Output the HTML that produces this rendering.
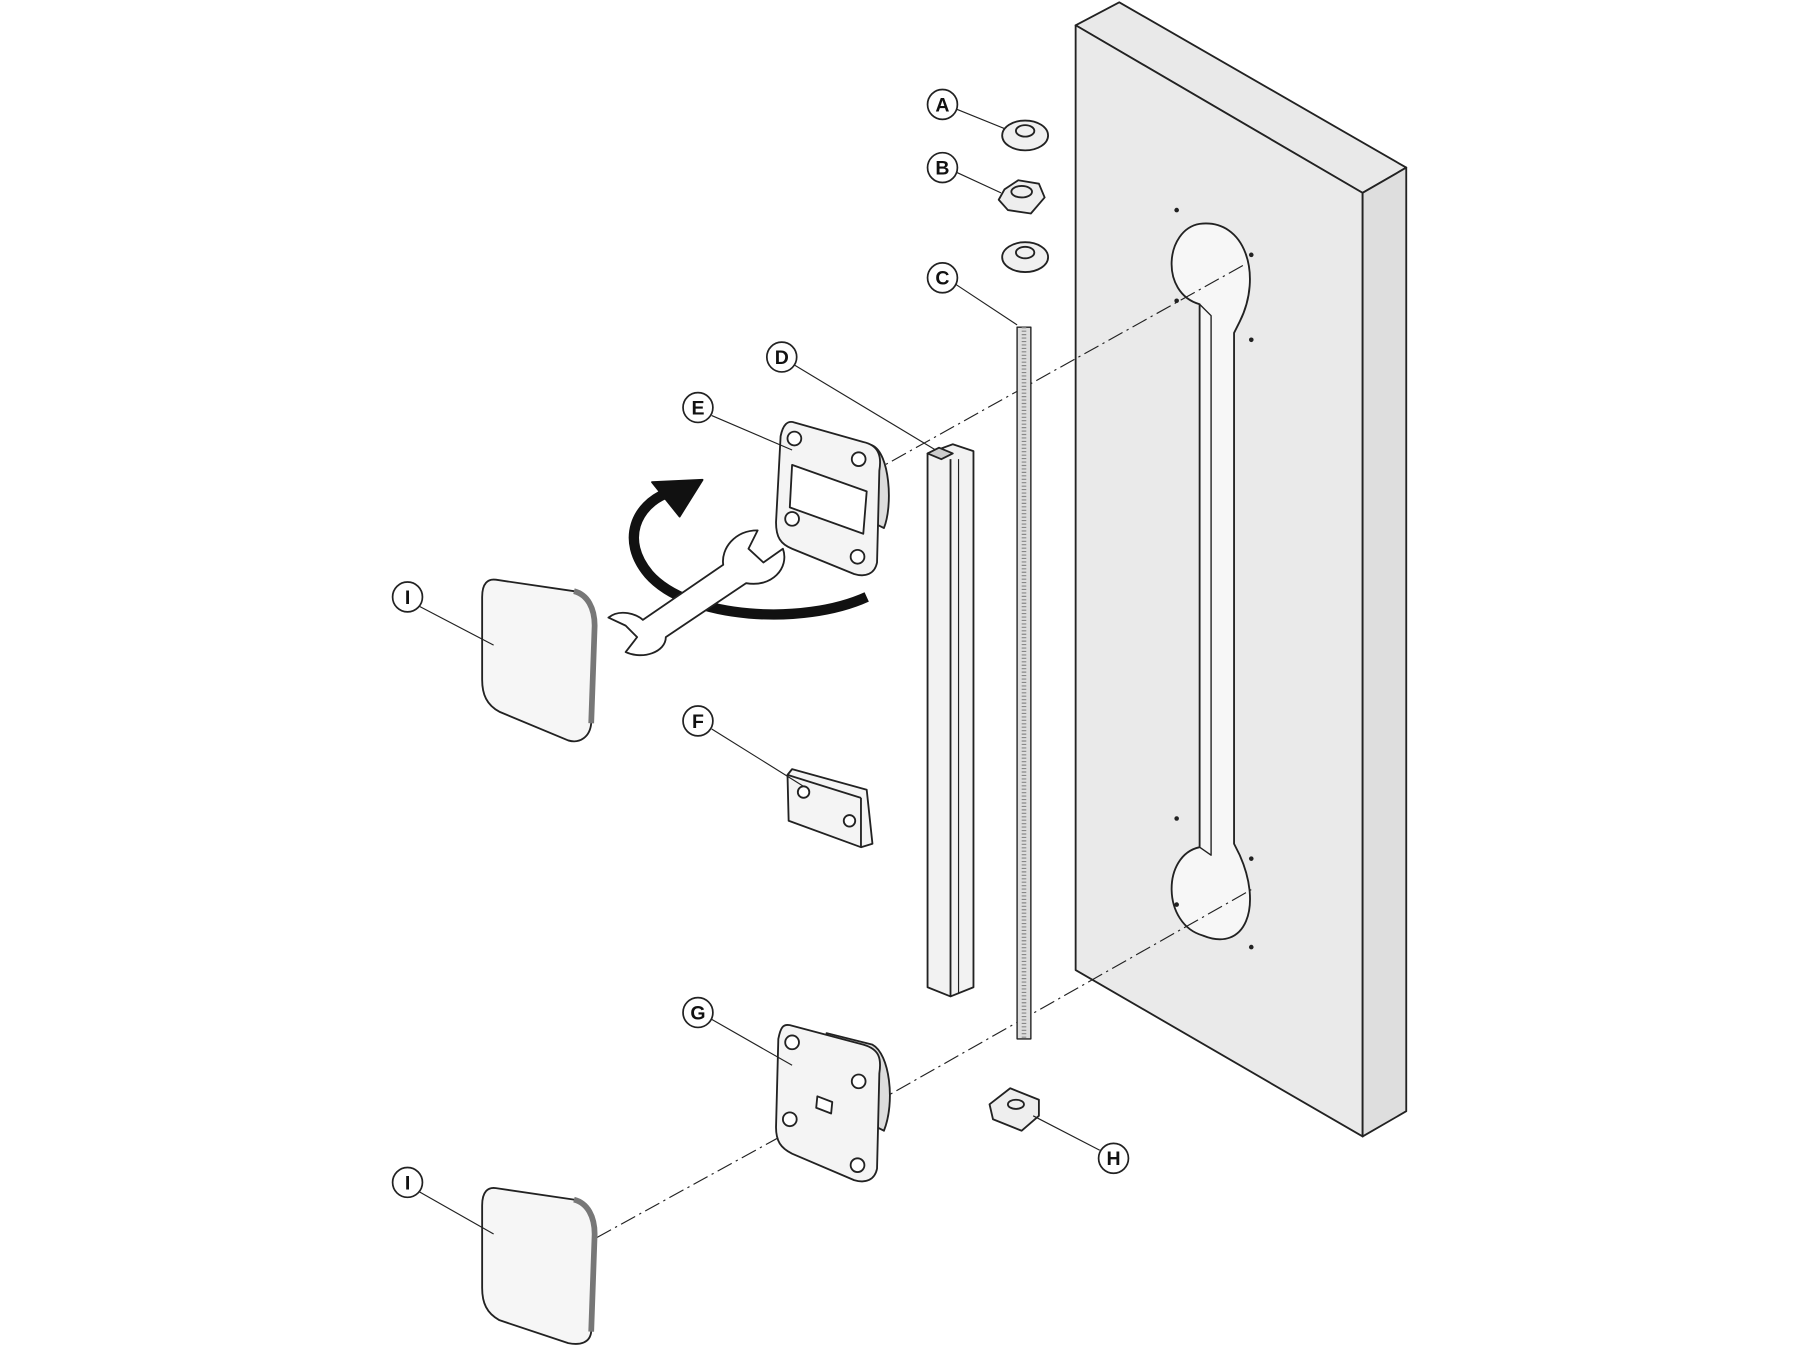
<!DOCTYPE html>
<html><head><meta charset="utf-8"><style>
html,body{margin:0;padding:0;background:#fff;}
svg{display:block;}
text{font-family:"Liberation Sans",sans-serif;font-weight:bold;font-size:17px;}
</style></head><body>
<svg width="1800" height="1350" viewBox="0 0 1568 1176" preserveAspectRatio="none" xmlns="http://www.w3.org/2000/svg">
<g stroke="#222" stroke-width="1.6" stroke-linejoin="round" fill="none">
<polygon points="937,22 975,2 1225,146 1187,168" fill="#e9e9e9"/>
<polygon points="937,22 1187,168 1187,990 937,845" fill="#eaeaea"/>
<polygon points="1187,168 1225,146 1225,968 1187,990" fill="#dedede"/>
<path d="M1045,265 C1010,255 1015,200 1045,195 C1085,190 1100,240 1080,280 L1075,290 L1075,735 L1080,745 C1100,790 1085,830 1048,815 C1012,805 1012,745 1045,738 L1045,265 Z" fill="#f7f7f7"/>
<path d="M1045,265 L1055,275 L1055,745 L1045,738" stroke-width="1.2"/>
<g fill="#222" stroke="none">
<circle cx="1025" cy="183" r="2"/><circle cx="1090" cy="222" r="2"/><circle cx="1025" cy="262" r="2"/><circle cx="1090" cy="296" r="2"/>
<circle cx="1025" cy="713" r="2"/><circle cx="1090" cy="748" r="2"/><circle cx="1025" cy="788" r="2"/><circle cx="1090" cy="825" r="2"/>
</g>
<g stroke-dasharray="14,4,2,4" stroke-width="1">
<line x1="735" y1="425" x2="1085" y2="230"/>
<line x1="760" y1="962" x2="1090" y2="775"/>
<line x1="520" y1="1078" x2="680" y2="990"/>
</g>
<ellipse cx="893" cy="118" rx="20" ry="13" fill="#f0f0f0"/><ellipse cx="893" cy="114" rx="8" ry="5"/>
<polygon points="875,165 887,157 905,160 910,172 898,186 878,183 870,174" fill="#eee"/><ellipse cx="890" cy="167" rx="9" ry="5"/>
<ellipse cx="893" cy="224" rx="20" ry="13" fill="#f0f0f0"/><ellipse cx="893" cy="220" rx="8" ry="5"/>
<rect x="886" y="285" width="12" height="620" fill="#ddd" stroke-width="1.2"/>
<line x1="892" y1="285" x2="892" y2="905" stroke-dasharray="1,2" stroke-width="4" stroke="#888"/>
<polygon points="808,395 830,387 848,393 848,860 828,868 808,860" fill="#f2f2f2"/>
<line x1="828" y1="400" x2="828" y2="868"/><line x1="835" y1="400" x2="835" y2="865" stroke-width="1"/>
<polygon points="808,395 818,390 830,395 820,400" fill="#ccc"/>
<path d="M720,378 L760,388 C775,395 778,440 770,460 L760,455 Z" fill="#ddd"/>
<path d="M692,368 L752,385 C766,388 768,398 766,410 L764,490 C762,500 754,503 744,500 L690,478 C680,474 676,468 676,455 L680,380 C682,370 686,366 692,368 Z" fill="#f4f4f4"/>
<polygon points="690,405 755,428 752,465 688,442" fill="#fff"/>
<g fill="#fff"><circle cx="692" cy="382" r="6"/><circle cx="748" cy="400" r="6"/><circle cx="690" cy="452" r="6"/><circle cx="747" cy="485" r="6"/></g>
<path d="M755,520 C700,545 600,540 565,500 C540,470 555,440 580,430" stroke="#111" stroke-width="9"/>
<polygon points="568,420 612,418 592,450" fill="#111" stroke="#111"/>
<path d="M530,538 C540,530 555,535 560,540 L630,492 C628,478 640,462 660,462 L652,478 L665,490 L682,478 C688,495 672,512 650,508 L580,555 C580,568 560,575 545,568 L555,555 L545,545 Z" fill="#fff"/>
<path d="M432,505 L500,515 C512,518 518,530 518,545 L515,630 C514,642 505,648 495,645 L435,620 C424,614 420,605 420,592 L420,520 C420,508 425,504 432,505 Z" fill="#f6f6f6"/>
<path d="M500,515 C512,518 518,530 518,545 L515,630" stroke-width="5" stroke="#777"/>
<path d="M432,1035 L500,1045 C512,1048 518,1060 518,1075 L515,1160 C514,1170 505,1172 495,1170 L435,1150 C424,1144 420,1135 420,1122 L420,1050 C420,1038 425,1034 432,1035 Z" fill="#f6f6f6"/>
<path d="M500,1045 C512,1048 518,1060 518,1075 L515,1160" stroke-width="5" stroke="#777"/>
<polygon points="690,670 755,688 760,735 750,738 687,715 686,675" fill="#f4f4f4"/>
<line x1="686" y1="675" x2="750" y2="695"/><line x1="750" y1="695" x2="750" y2="738"/>
<circle cx="700" cy="690" r="5" fill="#fff"/><circle cx="740" cy="715" r="5" fill="#fff"/>
<path d="M720,900 L760,910 C775,918 780,960 770,985 L760,980 Z" fill="#ddd"/>
<path d="M688,893 L752,910 C766,914 768,922 766,935 L764,1018 C762,1028 754,1031 744,1028 L690,1005 C680,1000 676,994 676,982 L678,905 C680,895 682,892 688,893 Z" fill="#f4f4f4"/>
<polygon points="712,955 725,960 724,970 711,965" fill="#fff"/>
<g fill="#fff"><circle cx="690" cy="908" r="6"/><circle cx="748" cy="942" r="6"/><circle cx="688" cy="975" r="6"/><circle cx="747" cy="1015" r="6"/></g>
<polygon points="862,962 880,948 905,958 905,972 890,985 865,975" fill="#eee"/><ellipse cx="885" cy="962" rx="7" ry="4"/>
<g stroke-width="1">
<line x1="833" y1="95" x2="875" y2="112"/><line x1="833" y1="150" x2="872" y2="168"/>
<line x1="833" y1="248" x2="886" y2="283"/><line x1="692" y1="318" x2="815" y2="392"/>
<line x1="620" y1="362" x2="690" y2="392"/><line x1="620" y1="635" x2="700" y2="685"/>
<line x1="620" y1="888" x2="690" y2="928"/><line x1="958" y1="1002" x2="900" y2="972"/>
<line x1="365" y1="528" x2="430" y2="562"/><line x1="365" y1="1038" x2="430" y2="1075"/>
</g>
<g fill="#fff" stroke-width="1.5">
<circle cx="821" cy="91" r="13"/><circle cx="821" cy="146" r="13"/><circle cx="821" cy="242" r="13"/>
<circle cx="681" cy="311" r="13"/><circle cx="608" cy="355" r="13"/><circle cx="608" cy="628" r="13"/>
<circle cx="608" cy="882" r="13"/><circle cx="970" cy="1009" r="13"/><circle cx="355" cy="520" r="13"/><circle cx="355" cy="1030" r="13"/>
</g>
</g>
<g fill="#111" text-anchor="middle">
<text x="821" y="97">A</text><text x="821" y="152">B</text><text x="821" y="248">C</text>
<text x="681" y="317">D</text><text x="608" y="361">E</text><text x="608" y="634">F</text>
<text x="608" y="888">G</text><text x="970" y="1015">H</text><text x="355" y="526">I</text><text x="355" y="1036">I</text>
</g>
</svg>
</body></html>
